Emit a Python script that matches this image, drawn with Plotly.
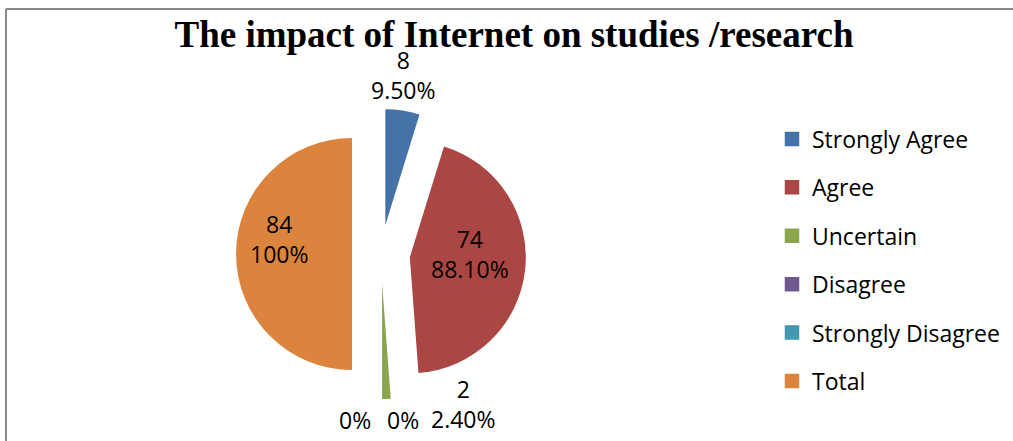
import plotly.graph_objects as go

# ---- data ----
categories = ["Strongly Agree", "Agree", "Uncertain", "Disagree", "Strongly Disagree", "Total"]
counts = [8, 74, 2, 0, 0, 84]
pct_labels = ["9.50%", "88.10%", "2.40%", "0%", "0%", "100%"]
colors = ["#4572A7", "#AA4643", "#89A54E", "#71588F", "#4198AF", "#DB843D"]

title_text = "The impact of Internet on studies /research"

W, H = 1013, 441
FONT = "Open Sans"

def label_for(c, p):
    return f"{c}<br>{p}" if c else p

slice_text = [label_for(c, p) for c, p in zip(counts, pct_labels)]

# data labels placed as in the original (Excel) layout, in pixels
label_px = [(403, 75.5), (470, 253.5), (463, 404), (355, 420), (403, 420), (279, 238.5)]

fig = go.Figure()
fig.add_trace(go.Pie(
    labels=categories,
    values=counts,
    textinfo="none",
    marker=dict(colors=colors, line=dict(width=0)),
    sort=False,
    direction="clockwise",
    rotation=0,
    pull=[0.25] * len(categories),
    showlegend=False,
    hoverinfo="label+value",
    domain=dict(x=[(381 - 145) / W, (381 + 145) / W], y=[1 - 399 / H, 1 - 109 / H]),
))

# legend entries (one per category)
for cat, col in zip(categories, colors):
    fig.add_trace(go.Scatter(
        x=[None], y=[None], mode="markers", name=cat, legendgroup=cat,
        marker=dict(symbol="square", size=14.5, color=col),
        showlegend=True, hoverinfo="skip",
    ))

annotations = []
for txt, (px, py) in zip(slice_text, label_px):
    annotations.append(dict(
        text=txt, x=px / W, y=1 - py / H, xref="paper", yref="paper",
        xanchor="center", yanchor="middle", showarrow=False, align="center",
        font=dict(family=FONT, size=23, color="#000000"),
    ))

fig.update_layout(
    width=W, height=H,
    margin=dict(l=0, r=0, t=0, b=0, autoexpand=False),
    paper_bgcolor="white", plot_bgcolor="white",
    title=dict(text=f"<b>{title_text}</b>", x=514 / W, xanchor="center",
               y=1 - 34 / H, yanchor="middle", yref="container",
               font=dict(family="Liberation Serif", size=37, color="#000000")),
    legend=dict(x=(792 - 20) / W, xanchor="left", y=1 - 117.5 / H, yanchor="top",
                font=dict(family=FONT, size=23, color="#000000"),
                traceorder="grouped", tracegroupgap=15.5,
                bgcolor="rgba(0,0,0,0)", borderwidth=0),
    xaxis=dict(visible=False), yaxis=dict(visible=False),
    annotations=annotations,
    shapes=[
        dict(type="line", xref="paper", yref="paper", x0=6 / W, x1=1.0, y0=1 - 9 / H, y1=1 - 9 / H,
             line=dict(color="#888888", width=2)),
        dict(type="line", xref="paper", yref="paper", x0=6 / W, x1=6 / W, y0=0, y1=1 - 9 / H,
             line=dict(color="#888888", width=2)),
    ],
)

fig.write_html("out.html")
